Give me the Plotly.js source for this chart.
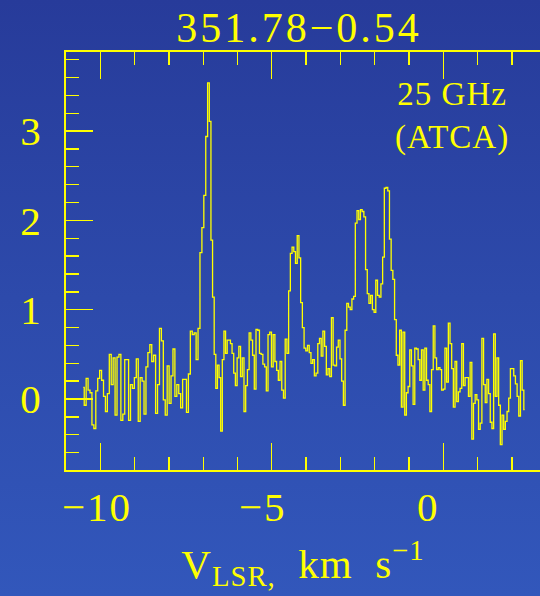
<!DOCTYPE html>
<html><head><meta charset="utf-8">
<script src="https://cdn.plot.ly/plotly-3.0.1.min.js"></script>
<style>
html,body{margin:0;padding:0;width:540px;height:596px;overflow:hidden;background:linear-gradient(to bottom,#273b9a 0%,#2d4aab 50%,#3257bb 100%);}
#chart{width:540px;height:596px;}
.gtitle{letter-spacing:3px;}
.annotation[data-index="0"] text,.annotation[data-index="1"] text,.annotation[data-index="2"] text{letter-spacing:2px;}
.annotation[data-index="3"] text{letter-spacing:1px;}
.g-xtitle text{letter-spacing:1px;}
</style>
</head><body><div id="chart"></div>
<script>
// ---- data ----
const sourceName = "351.78\u22120.54";
const bandLabel = ["25 GHz", "(ATCA)"];
const xTickValues = [-10, -5, 0];
const xTickLabels = ["\u221210", "\u22125", "0"];
const yTickValues = [0, 1, 2, 3];
const yTickLabels = ["0", "1", "2", "3"];
// velocity (km/s) of the edges of the five stretches of channels read below
const segmentEdges = [-10.525, -6.869, -6.111, -3.808, -1.271, 2.397];
// intensities per channel, stretch by stretch
const segment1 = [
 0.13,-0.07,0.23,0.10,0.07,-0.29,-0.33,0.09,0.23,0.32,
 0.21,0.03,-0.14,0.06,0.50,0.16,0.46,-0.18,0.47,0.50,
 -0.24,-0.17,0.44,0.44,-0.24,0.16,0.12,0.24,0.45,-0.25,
 0.24,0.20,-0.17,0.36,0.52,0.61,0.42,0.49,-0.16,0.16,
 0.79,0.65,-0.01,-0.18,0.37,-0.05,0.26,0.56,0.03,0.16,
 0.06,-0.10,0.22,0.22,-0.15,0.28,0.76,0.72,0.74,0.44,
 0.79,1.64,1.92,2.28,2.94];
const segment2 = [3.54,3.11,1.78,1.14,0.50,0.12,0.38,0.24,-0.36,0.44,0.76,0.51,0.66,0.66,0.62,0.51];
const segment3 = [
 0.29,0.15,0.46,0.59,0.25,0.46,-0.14,0.15,0.33,0.74,0.66,0.49,0.11,0.78,0.77,0.51,0.50,0.39,0.36,0.09,
 0.72,0.75,0.36,0.72,0.42,0.32,0.21,0.42,0.10,0.01,0.67,0.51,1.21,1.63,1.70,1.65,1.52,1.83,1.58,1.08,
 0.80,0.57,0.54,0.60,0.52,0.40];
const segment4 = [
 0.44,0.26,0.29,0.62,0.68,0.48,0.76,0.59,0.27,0.34,0.25,0.91,0.38,0.37,0.58,0.66,0.45,0.20,-0.07,0.77,
 1.07,1.03,1.00,1.12,1.15,1.97,2.11,2.01,2.12,2.10,2.04,1.45,1.18,1.07,1.16,1.00,0.97,1.33,1.16,1.14,
 1.29,1.59,2.36,2.37,2.33,1.79,1.44,1.34,0.89,0.49,0.38];
const segment5 = [
 0.77,-0.09,0.75,-0.18,0.07,0.14,0.55,0.37,-0.06,0.57,0.56,0.44,0.21,0.55,0.10,0.57,0.21,0.16,-0.14,0.33,
 0.82,0.46,0.33,0.35,0.33,0.10,0.11,0.57,0.19,0.85,0.62,0.34,-0.09,0.42,-0.03,0.08,0.12,0.62,0.15,0.24,
 0.24,0.03,0.41,-0.45,-0.05,0.05,-0.01,-0.34,-0.27,0.68,0.16,-0.04,0.22,0.06,-0.26,-0.33,0.73,0.03,0.46,-0.07,
 -0.51,-0.18,-0.34,-0.25,-0.14,0.01,0.34,0.34,0.26,0.17,0.03,-0.19,0.43,0.10,-0.12];

// ---- channel grid: each stretch evenly divided between its edges ----
const segments = [segment1, segment2, segment3, segment4, segment5];
const velocity = [], intensity = [];
segments.forEach((seg, s) => {
  const v0 = segmentEdges[s], v1 = segmentEdges[s + 1];
  const w = (v1 - v0) / seg.length;
  seg.forEach((val, i) => { velocity.push(v0 + (i + 0.5) * w); intensity.push(val); });
});

const YEL = '#ffff00';
const serif = '"Liberation Serif","DejaVu Serif",serif';
const xRange = [-11, 2.82];
const yRange = [-0.795, 3.886];

const trace = {
  x: velocity, y: intensity, type: 'scatter', mode: 'lines',
  line: {color: YEL, width: 1.3, shape: 'hvh'}, hoverinfo: 'skip', showlegend: false
};

const tickShift = [-3, -9, -15];
const annotations = xTickValues.map((v, i) => ({
  x: v, xref: 'x', y: -0.0897, yref: 'paper', text: xTickLabels[i], showarrow: false,
  xanchor: 'center', yanchor: 'middle', xshift: tickShift[i],
  font: {family: serif, size: 41, color: YEL}
}));
annotations.push({x: (452 - 66) / 474, xref: 'paper', y: (470 - 116) / 418, yref: 'paper',
  text: bandLabel.join('<br>'), align: 'center',
  showarrow: false, xanchor: 'center', yanchor: 'middle', font: {family: serif, size: 33, color: YEL}});

const layout = {
  width: 540, height: 596,
  paper_bgcolor: 'rgba(0,0,0,0)', plot_bgcolor: 'rgba(0,0,0,0)',
  margin: {l: 66, r: 0, t: 52, b: 126, pad: 0},
  showlegend: false,
  title: {text: sourceName, font: {family: serif, size: 42, color: YEL},
    x: 299/540, xref: 'container', xanchor: 'center', y: 1 - 27/596, yref: 'container', yanchor: 'middle'},
  xaxis: {
    range: xRange, showline: true, linecolor: YEL, linewidth: 2, mirror: 'ticks',
    ticks: 'inside', tickvals: xTickValues, ticklen: 27, tickwidth: 1.3, tickcolor: YEL,
    minor: {dtick: 1, tick0: 0, ticks: 'inside', ticklen: 13, tickwidth: 1.3, tickcolor: YEL, showgrid: false},
    showticklabels: false, showgrid: false, zeroline: false,
    title: {text: 'V<sub>LSR,</sub>\u00a0 km\u00a0 s<sup>\u22121</sup>\u00a0\u00a0\u00a0\u00a0', font: {family: serif, size: 41, color: YEL}, standoff: 78}
  },
  yaxis: {
    range: yRange, showline: true, linecolor: YEL, linewidth: 2, mirror: false,
    ticks: 'inside', tickvals: yTickValues, ticktext: yTickLabels, ticklen: 27, tickwidth: 1.3, tickcolor: YEL,
    minor: {dtick: 0.2, tick0: 0, ticks: 'inside', ticklen: 13, tickwidth: 1.3, tickcolor: YEL, showgrid: false},
    showgrid: false, zeroline: false, ticklabelstandoff: 15,
    tickfont: {family: serif, size: 41, color: YEL}
  },
  yaxis2: {
    range: yRange, overlaying: 'y', side: 'right', showline: false,
    ticks: 'inside', tickvals: yTickValues, ticklen: 20, tickwidth: 1.3, tickcolor: YEL,
    minor: {dtick: 0.2, tick0: 0, ticks: 'inside', ticklen: 7, tickwidth: 1.3, tickcolor: YEL, showgrid: false},
    showticklabels: false, showgrid: false, zeroline: false
  },
  annotations: annotations
};

Plotly.newPlot('chart', [trace], layout, {staticPlot: true, displayModeBar: false});
</script>
</body></html>
